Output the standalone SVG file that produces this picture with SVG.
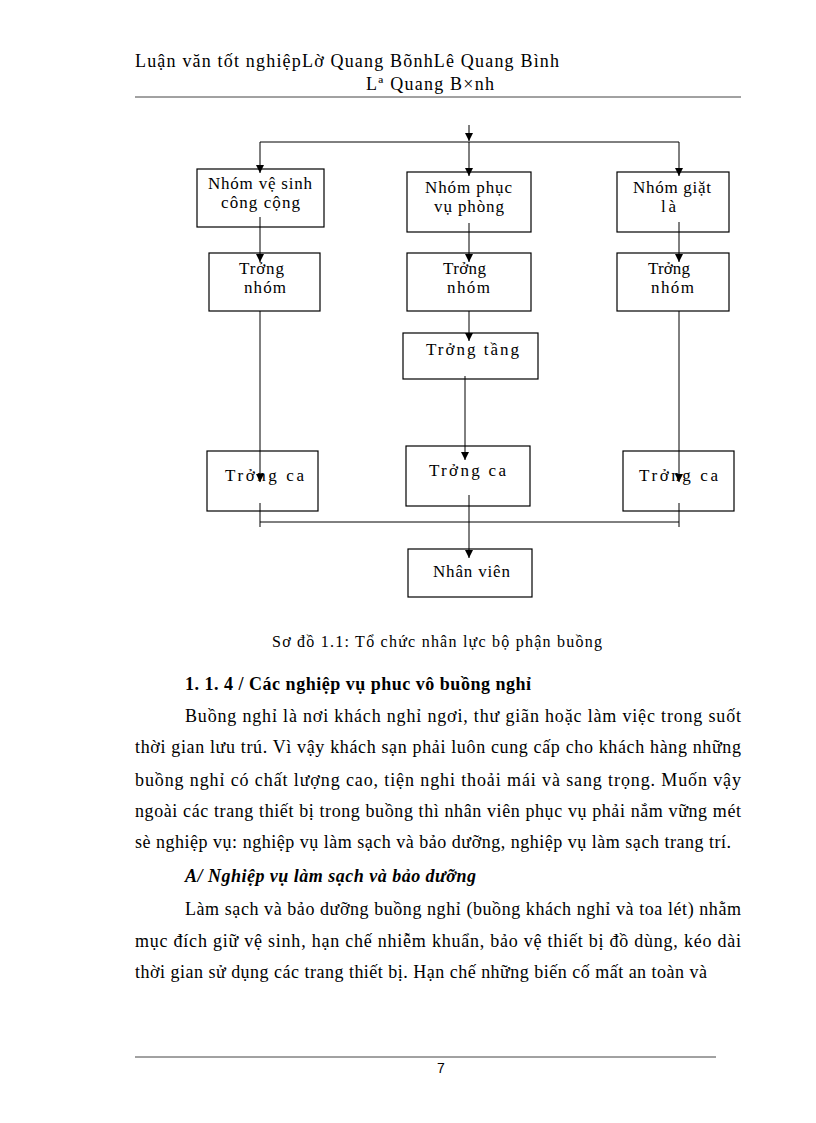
<svg xmlns="http://www.w3.org/2000/svg" width="816" height="1123" viewBox="0 0 816 1123">
<style>
  .bg{fill:#fff}
  .box{fill:#fff;stroke:#000;stroke-width:1.2}
  .t{font-family:"Liberation Serif","Times New Roman",serif;font-size:17px;fill:#000}
  .c{stroke:#000;stroke-width:1;fill:none}
  .hd{font-family:"Liberation Serif","Times New Roman",serif;font-size:18px;fill:#000}
  .body{font-family:"Liberation Serif","Times New Roman",serif;font-size:18px;fill:#000}
  .cap{font-family:"Liberation Serif","Times New Roman",serif;font-size:16px;fill:#000}
  .rule{stroke:#444;stroke-width:1}
  .pg{font-family:"Liberation Sans",Arial,sans-serif;font-size:14px;fill:#000}
</style>
<defs>
  <marker id="arr" viewBox="0 0 8 10" refX="8" refY="5" markerWidth="8" markerHeight="10" markerUnits="userSpaceOnUse" orient="auto">
    <path d="M0,1 L8,5 L0,9 z" fill="#000"/>
  </marker>
</defs>
<rect class="bg" x="0" y="0" width="816" height="1123"/>

<g id="header">
  <text class="hd" x="135" y="67" textLength="424" lengthAdjust="spacing">Luận văn tốt nghiệpLờ Quang BõnhLê Quang Bình</text>
  <text class="hd" x="366" y="90" textLength="128" lengthAdjust="spacing">Lª Quang B×nh</text>
  <line class="rule" x1="135" y1="97" x2="741" y2="97"/>
</g>

<g id="n1">
  <rect class="box" x="197" y="169" width="127" height="58"/>
  <text class="t" x="208" y="189" textLength="104" lengthAdjust="spacing">Nhóm vệ sinh</text>
  <text class="t" x="221" y="208" textLength="79" lengthAdjust="spacing">công cộng</text>
</g>
<g id="n2">
  <rect class="box" x="407" y="172" width="124" height="60"/>
  <text class="t" x="425" y="193" textLength="87" lengthAdjust="spacing">Nhóm phục</text>
  <text class="t" x="434" y="212" textLength="70" lengthAdjust="spacing">vụ phòng</text>
</g>
<g id="n3">
  <rect class="box" x="617" y="172" width="112" height="60"/>
  <text class="t" x="633" y="193" textLength="78" lengthAdjust="spacing">Nhóm giặt</text>
  <text class="t" x="661" y="212" textLength="15" lengthAdjust="spacing">là</text>
</g>
<g id="n4">
  <rect class="box" x="209" y="253" width="111" height="58"/>
  <text class="t" x="239" y="274" textLength="45" lengthAdjust="spacing">Trởng</text>
  <text class="t" x="244" y="293" textLength="42" lengthAdjust="spacing">nhóm</text>
</g>
<g id="n5">
  <rect class="box" x="407" y="253" width="124" height="58"/>
  <text class="t" x="443" y="274" textLength="43" lengthAdjust="spacing">Trởng</text>
  <text class="t" x="447" y="293" textLength="43" lengthAdjust="spacing">nhóm</text>
</g>
<g id="n6">
  <rect class="box" x="617" y="253" width="112" height="58"/>
  <text class="t" x="648" y="274" textLength="42" lengthAdjust="spacing">Trởng</text>
  <text class="t" x="651" y="293" textLength="43" lengthAdjust="spacing">nhóm</text>
</g>
<g id="n7">
  <rect class="box" x="403" y="333" width="135" height="46"/>
  <text class="t" x="426" y="355" textLength="93" lengthAdjust="spacing">Trởng   tầng</text>
</g>
<g id="n8">
  <rect class="box" x="207" y="451" width="111" height="60"/>
  <text class="t" x="225" y="481" textLength="79" lengthAdjust="spacing">Trởng   ca</text>
</g>
<g id="n9">
  <rect class="box" x="406" y="446" width="124" height="60"/>
  <text class="t" x="429" y="476" textLength="77" lengthAdjust="spacing">Trởng   ca</text>
</g>
<g id="n10">
  <rect class="box" x="623" y="451" width="111" height="60"/>
  <text class="t" x="639" y="481" textLength="79" lengthAdjust="spacing">Trởng   ca</text>
</g>
<g id="n11">
  <rect class="box" x="408" y="549" width="124" height="48"/>
  <text class="t" x="433" y="577" textLength="77" lengthAdjust="spacing">Nhân viên</text>
</g>

<g id="connectors">
  <line class="c" x1="469" y1="125" x2="469" y2="141" marker-end="url(#arr)"/>
  <line class="c" x1="260" y1="142" x2="679" y2="142"/>
  <line class="c" x1="260" y1="142" x2="260" y2="173" marker-end="url(#arr)"/>
  <line class="c" x1="469" y1="142" x2="469" y2="176" marker-end="url(#arr)"/>
  <line class="c" x1="679" y1="142" x2="679" y2="176" marker-end="url(#arr)"/>
  <line class="c" x1="260" y1="217" x2="260" y2="262" marker-end="url(#arr)"/>
  <line class="c" x1="469" y1="223" x2="469" y2="262" marker-end="url(#arr)"/>
  <line class="c" x1="679" y1="222" x2="679" y2="262" marker-end="url(#arr)"/>
  <line class="c" x1="260" y1="311" x2="260" y2="482" marker-end="url(#arr)"/>
  <line class="c" x1="679" y1="311" x2="679" y2="482" marker-end="url(#arr)"/>
  <line class="c" x1="469" y1="311" x2="469" y2="341" marker-end="url(#arr)"/>
  <line class="c" x1="465" y1="376" x2="465" y2="460" marker-end="url(#arr)"/>
  <line class="c" x1="260" y1="503" x2="260" y2="527"/>
  <line class="c" x1="679" y1="503" x2="679" y2="527"/>
  <line class="c" x1="260" y1="522" x2="679" y2="522"/>
  <line class="c" x1="469" y1="495" x2="469" y2="558" marker-end="url(#arr)"/>
</g>

<g id="text">
  <text class="cap" x="272" y="647" textLength="330" lengthAdjust="spacing">Sơ đồ 1.1: Tổ chức nhân lực bộ phận buồng</text>
  <text class="body" x="185" y="690" font-weight="bold" textLength="346" lengthAdjust="spacing">1. 1. 4 / Các nghiệp vụ phuc vô buồng nghỉ</text>
  <text class="body" x="185" y="722" textLength="556" lengthAdjust="spacing">Buồng nghỉ là nơi khách nghỉ ngơi, thư giãn hoặc làm việc trong suốt</text>
  <text class="body" x="135" y="753" textLength="606" lengthAdjust="spacing">thời gian lưu trú. Vì vậy khách sạn phải luôn cung cấp cho khách hàng những</text>
  <text class="body" x="135" y="786" textLength="606" lengthAdjust="spacing">buồng nghỉ có chất lượng  cao, tiện nghi thoải mái và sang trọng. Muốn vậy</text>
  <text class="body" x="135" y="817" textLength="606" lengthAdjust="spacing">ngoài các trang thiết bị trong buồng thì nhân viên phục vụ phải nắm vững mét</text>
  <text class="body" x="135" y="848" textLength="596" lengthAdjust="spacing">sè nghiệp vụ: nghiệp vụ làm sạch và bảo dưỡng, nghiệp vụ làm sạch trang trí.</text>
  <text class="body" x="185" y="882" font-weight="bold" font-style="italic" textLength="291" lengthAdjust="spacing">A/ Nghiệp vụ làm sạch và bảo dưỡng</text>
  <text class="body" x="185" y="915" textLength="556" lengthAdjust="spacing">Làm sạch và bảo dưỡng buồng nghỉ (buồng khách nghỉ và toa lét) nhằm</text>
  <text class="body" x="135" y="947" textLength="606" lengthAdjust="spacing">mục đích giữ vệ sinh, hạn chế nhiễm  khuẩn, bảo vệ thiết bị đồ dùng, kéo dài</text>
  <text class="body" x="135" y="978" textLength="572" lengthAdjust="spacing">thời gian sử dụng các trang thiết bị. Hạn chế những biến cố mất an toàn và</text>
</g>

<g id="footer">
  <line class="rule" x1="135" y1="1057" x2="716" y2="1057"/>
  <text class="pg" x="441" y="1073" text-anchor="middle">7</text>
</g>
</svg>
